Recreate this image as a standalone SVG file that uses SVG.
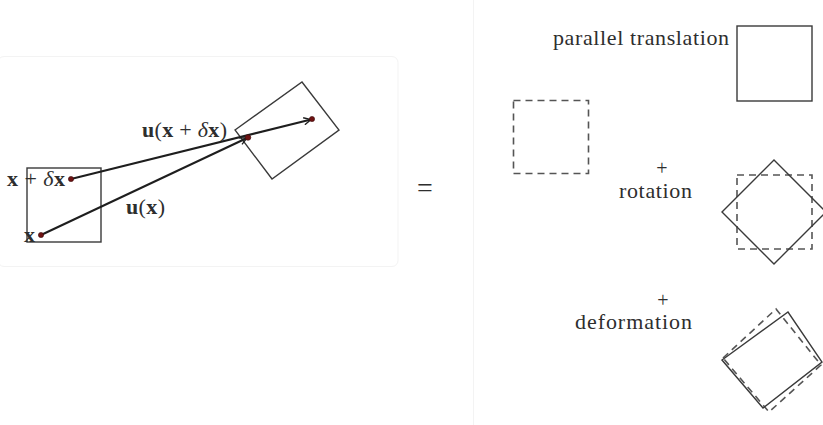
<svg xmlns="http://www.w3.org/2000/svg" width="823" height="425" viewBox="0 0 823 425">
<defs>
<style>
.bg{fill:#fff}
.faint{fill:none;stroke:#f3f3f3;stroke-width:1}
.box{fill:none;stroke:#3a3a3a;stroke-width:1.4}
.dash{fill:none;stroke:#555;stroke-width:1.6;stroke-dasharray:7 5}
.arrow{fill:none;stroke:#1e1e1e;stroke-width:2;marker-end:url(#ah)}
.dot{fill:#6e1212;stroke:#3a0a0a;stroke-width:0.6}
.t{font-family:"Liberation Serif","DejaVu Serif",serif;font-size:22px;fill:#2e2e2e}
.p{font-size:20px}
.b{font-weight:bold}
.i{font-style:italic}
</style>
<marker id="ah" viewBox="0 0 10 10" refX="9" refY="5" markerWidth="9" markerHeight="9" orient="auto" markerUnits="userSpaceOnUse">
<path d="M1,1 L9,5 L1,9" fill="none" stroke="#1e1e1e" stroke-width="1.5"/>
</marker>
</defs>
<rect class="bg" x="0" y="0" width="823" height="425"/>
<rect class="faint" x="-2" y="56.5" width="400" height="210" rx="6"/>
<line class="faint" x1="473.5" y1="0" x2="473.5" y2="425"/>

<g id="left-square">
<rect class="box" x="27" y="168" width="74" height="74"/>
</g>
<g id="moved-rect">
<polygon class="box" points="235,130 302,82 339,130 272,179"/>
</g>

<g id="connectors">
<line class="arrow" x1="71" y1="179" x2="311" y2="119.5"/>
<line class="arrow" x1="41" y1="235" x2="247" y2="138"/>
</g>

<g id="points">
<circle class="dot" cx="41" cy="235" r="2.6"/>
<circle class="dot" cx="71" cy="179" r="2.6"/>
<circle class="dot" cx="248" cy="137.5" r="2.8"/>
<circle class="dot" cx="312" cy="119" r="2.6"/>
</g>

<g id="labels-left">
<text class="t" x="7" y="186" textLength="58"><tspan class="b">x</tspan> + <tspan class="i">δ</tspan><tspan class="b">x</tspan></text>
<text class="t" x="24" y="242"><tspan class="b">x</tspan></text>
<text class="t" x="142" y="137" textLength="85"><tspan class="b">u</tspan>(<tspan class="b">x</tspan> + <tspan class="i">δ</tspan><tspan class="b">x</tspan>)</text>
<text class="t" x="126" y="214" textLength="39"><tspan class="b">u</tspan>(<tspan class="b">x</tspan>)</text>
</g>

<g id="equals">
<text class="t" x="425" y="197" text-anchor="middle" style="font-size:28px">=</text>
</g>

<g id="translation">
<text class="t" x="553" y="45" textLength="176">parallel translation</text>
<rect class="box" x="737" y="26" width="75" height="75"/>
<rect class="dash" x="513.5" y="100.5" width="75" height="73"/>
</g>

<g id="rotation">
<text class="t p" x="662" y="175" text-anchor="middle">+</text>
<text class="t" x="692" y="198" text-anchor="end" textLength="73">rotation</text>
<rect class="dash" x="737" y="175" width="75" height="74"/>
<polygon class="box" points="774,160 826,212 774,264 722,212"/>
</g>

<g id="deformation">
<text class="t p" x="663" y="307" text-anchor="middle">+</text>
<text class="t" x="692" y="329" text-anchor="end" textLength="117">deformation</text>
<polygon class="dash" points="723,358 776,309 821,365 769,412"/>
<polygon class="box" points="722,360 788,312 822,362 763,408"/>
</g>
</svg>
